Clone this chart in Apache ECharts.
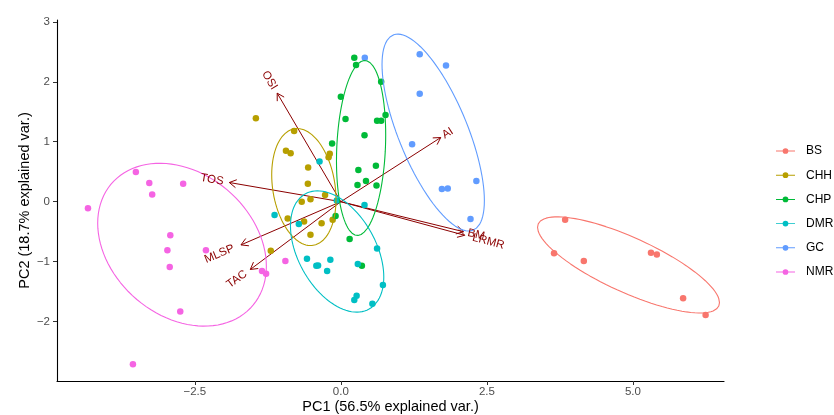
<!DOCTYPE html>
<html><head><meta charset="utf-8">
<script src="https://cdn.jsdelivr.net/npm/echarts@6/dist/echarts.min.js"></script>
<style>html,body{margin:0;padding:0;background:#fff}#c{width:834px;height:415px}</style>
</head><body><div id="c"></div>
<script>
const groups = ['BS','CHH','CHP','DMR','GC','NMR'];
const colors = ['#F8766D','#B79F00','#00BA38','#00BFC4','#619CFF','#F564E3'];

const BS = [[3.84,-0.30],[3.65,-0.86],[4.16,-0.99],[5.31,-0.85],[5.41,-0.88],[5.86,-1.61],[6.245,-1.89]];
const CHH = [[-1.455,1.39],[-0.80,1.18],[-0.94,0.85],[-0.86,0.81],[-0.19,0.80],[-0.21,0.74],[-0.56,0.57],
  [-0.565,0.30],[-0.27,0.11],[-0.67,0.0],[-0.52,0.04],[-0.91,-0.28],[-0.63,-0.33],[-0.33,-0.36],
  [-0.14,-0.30],[-0.52,-0.55],[-1.20,-0.82]];
const CHP = [[0.23,2.40],[0.26,2.28],[0.69,2.00],[0.0,1.75],[0.08,1.38],[0.765,1.445],[0.62,1.35],[0.69,1.35],
  [0.405,1.11],[-0.15,0.97],[0.30,0.53],[0.60,0.60],[0.43,0.345],[0.285,0.28],[0.61,0.27],[-0.09,-0.24],
  [0.15,-0.62],[0.36,-1.07]];
const DMR = [[-0.365,0.67],[-0.07,0.02],[0.405,-0.055],[-1.135,-0.22],[-0.72,-0.37],[0.62,-0.78],[-0.58,-0.95],
  [-0.42,-1.07],[-0.39,-1.065],[-0.18,-0.97],[-0.235,-1.155],[0.29,-1.04],[0.72,-1.39],[0.27,-1.57],
  [0.23,-1.64],[0.54,-1.70]];
const GC = [[0.41,2.40],[1.35,2.46],[1.80,2.27],[1.35,1.80],[1.22,0.96],[2.32,0.345],[1.73,0.21],[1.83,0.22],[2.22,-0.29]];
const NMR = [[-3.51,0.495],[-3.28,0.31],[-3.23,0.12],[-2.70,0.30],[-4.33,-0.11],[-2.92,-0.56],[-2.97,-0.81],
  [-2.31,-0.81],[-2.93,-1.09],[-1.35,-1.155],[-1.28,-1.20],[-2.75,-1.83],[-3.56,-2.71],[-0.95,-0.99]];
const groupData = [BS, CHH, CHP, DMR, GC, NMR];

const varNames = ['OSI','AI','TOS','MLSP','TAC','BM','LRMR'];
const varX = [-1.09, 1.71, -1.91, -1.71, -1.55, 2.10, 2.12];
const varY = [1.81, 1.07, 0.32, -0.72, -1.13, -0.50, -0.56];

const xTicks = [-2.5, 0, 2.5, 5];
const yTicks = [-2, -1, 0, 1, 2, 3];
const xTitle = 'PC1 (56.5% explained var.)';
const yTitle = 'PC2 (18.7% explained var.)';

function ellipse(pts){
  const n = pts.length;
  let mx=0,my=0; pts.forEach(p=>{mx+=p[0];my+=p[1];}); mx/=n; my/=n;
  let sxx=0,syy=0,sxy=0;
  pts.forEach(p=>{const dx=p[0]-mx, dy=p[1]-my; sxx+=dx*dx; syy+=dy*dy; sxy+=dx*dy;});
  sxx/=(n-1); syy/=(n-1); sxy/=(n-1);
  const a=Math.sqrt(sxx), b=sxy/a, c=Math.sqrt(syy-b*b);
  const ed=Math.sqrt(-2*Math.log(1-0.68));
  const out=[];
  for(let i=0;i<=100;i++){
    const t=-Math.PI+2*Math.PI*i/100;
    out.push([mx+ed*a*Math.cos(t), my+ed*(b*Math.cos(t)+c*Math.sin(t))]);
  }
  return out;
}

const FF = '"Liberation Sans", Arial, sans-serif';
const FONT = '11.5px ' + FF;
const mctx = document.createElement('canvas').getContext('2d');
mctx.font = FONT;
function tw(s){ return mctx.measureText(s).width; }
const minus = v => String(v).replace('-', '\u2212');

const series = [];
series.push({
  type:'custom', name:'arrows', z:1, silent:true,
  encode:{x:0,y:1},
  data: varX.map((x,i)=>[x,varY[i]]),
  renderItem(params, api){
    const o=api.coord([0,0]), t=api.coord([api.value(0),api.value(1)]);
    const ang=Math.atan2(t[1]-o[1], t[0]-o[0]);
    const L=8, A=Math.PI/6;
    const h1=[t[0]-L*Math.cos(ang-A), t[1]-L*Math.sin(ang-A)];
    const h2=[t[0]-L*Math.cos(ang+A), t[1]-L*Math.sin(ang+A)];
    return {type:'group', children:[
      {type:'line', shape:{x1:o[0],y1:o[1],x2:t[0],y2:t[1]}, style:{stroke:'#8B0000', lineWidth:1}},
      {type:'polyline', shape:{points:[h1,t,h2]}, style:{stroke:'#8B0000', lineWidth:1, fill:null}}
    ]};
  }
});
groups.forEach((g,i)=>{
  series.push({type:'scatter', name:g, z:2, data:groupData[i], symbolSize:6.5,
    itemStyle:{color:colors[i], opacity:1}, silent:true});
});
groups.forEach((g,i)=>{
  series.push({type:'line', name:g, z:3, data:ellipse(groupData[i]), showSymbol:false, symbol:'none',
    lineStyle:{color:colors[i], width:1.1}, itemStyle:{color:colors[i]}, silent:true, animation:false});
});
series.push({
  type:'custom', name:'labels', z:4, silent:true,
  encode:{x:0,y:1},
  data: varX.map((x,i)=>[x,varY[i]]),
  renderItem(params, api){
    const x=api.value(0), y=api.value(1), name=varNames[params.dataIndex];
    const t=api.coord([x,y]);
    const rot=Math.atan(y/x);
    const w=tw(name);
    const pos=x>0;
    return {type:'text', x:t[0], y:t[1], rotation:rot,
      style:{text:name, x: pos?0.25*w:-0.25*w, y:0, align:pos?'left':'right', verticalAlign:'middle',
        fill:'#8B0000', font:FONT}};
  }
});

const legendIcon = 'path://M0,2.5 L20,2.5 L20,3.5 L0,3.5 Z M13,3 A3,3 0 1,1 7,3 A3,3 0 1,1 13,3 Z';

const chart = echarts.init(document.getElementById('c'), null, {renderer:'canvas'});
chart.setOption({
  animation:false,
  backgroundColor:'#fff',
  grid:{left:57, right:110, top:20, bottom:34, containLabel:false, outerBoundsMode:'none'},
  legend:{
    orient:'vertical', left:776, top:144, padding:0, itemWidth:19, itemHeight:6, itemGap:10.2,
    data: groups.map(g=>({name:g, icon:legendIcon})),
    textStyle:{fontSize:12, color:'#000', fontFamily:FF, lineHeight:14, padding:[0,0,0,6]},
    selectedMode:false
  },
  xAxis:{
    type:'value', min:-4.86, max:6.56,
    name:xTitle, nameLocation:'middle', nameGap:18, nameMoveOverlap:false,
    nameTextStyle:{fontSize:14.5, color:'#000', fontFamily:FF},
    axisLine:{onZero:false, lineStyle:{color:'#000', width:1.1}},
    axisTick:{show:true, length:4, lineStyle:{color:'#333'}, customValues:xTicks},
    axisLabel:{customValues:xTicks, formatter:v=>minus(v.toFixed(1)), margin:5, fontSize:11.5,
      color:'#4D4D4D', fontFamily:FF},
    splitLine:{show:false}
  },
  yAxis:{
    type:'value', min:-2.99, max:3.03,
    name:yTitle, nameLocation:'middle', nameGap:24.5, nameMoveOverlap:false,
    nameTextStyle:{fontSize:14.5, color:'#000', fontFamily:FF},
    axisLine:{onZero:false, lineStyle:{color:'#000', width:1.1}},
    axisTick:{show:true, length:4, lineStyle:{color:'#333'}, customValues:yTicks},
    axisLabel:{customValues:yTicks, formatter:v=>minus(String(v)), margin:7, fontSize:11.5,
      color:'#4D4D4D', fontFamily:FF},
    splitLine:{show:false}
  },
  series: series
});
</script>
</body></html>
